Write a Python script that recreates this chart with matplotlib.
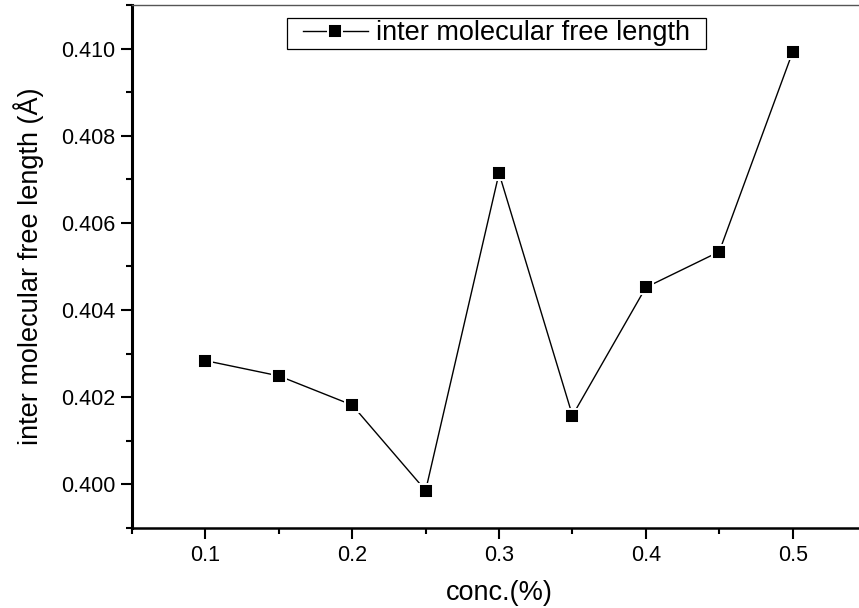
import matplotlib
matplotlib.use('Agg')
import matplotlib.pyplot as plt
from matplotlib.ticker import MultipleLocator
from matplotlib.patches import Rectangle

plt.rcParams['font.family'] = ['Liberation Sans', 'DejaVu Sans']

# concentration vs inter molecular free length
conc = [0.10, 0.15, 0.20, 0.25, 0.30, 0.35, 0.40, 0.45, 0.50]
free_length = [0.40284, 0.40249, 0.40182, 0.39986, 0.40714, 0.40158, 0.40452, 0.40534, 0.40992]

fig = plt.figure(figsize=(8.59, 6.08), dpi=100)
ax = fig.add_axes([0.1537, 0.1316, 0.8545, 0.8602])

# white edge gives the small gap between line and marker
ax.plot(conc, free_length, '-', color='black', linewidth=1.0,
        marker='s', markersize=10, markerfacecolor='black',
        markeredgecolor='white', markeredgewidth=1.4,
        label='inter molecular free length')

ax.set_xlim(0.05, 0.55)
ax.set_ylim(0.399, 0.411)
ax.xaxis.set_minor_locator(MultipleLocator(0.05))
ax.yaxis.set_minor_locator(MultipleLocator(0.001))
ax.set_xticks([0.1, 0.2, 0.3, 0.4, 0.5])
ax.set_xticklabels(['0.1', '0.2', '0.3', '0.4', '0.5'])
ax.set_yticks([0.400, 0.402, 0.404, 0.406, 0.408, 0.410])
ax.set_yticklabels(['0.400', '0.402', '0.404', '0.406', '0.408', '0.410'])

ax.tick_params(which='major', direction='out', length=8, width=1.5, labelsize=15.5, pad=4)
ax.tick_params(which='minor', direction='out', length=4, width=1.5)
ax.tick_params(top=False, right=False)

ax.spines['left'].set_linewidth(2.2)
ax.spines['bottom'].set_linewidth(1.8)
ax.spines['top'].set_linewidth(1.0)
ax.spines['top'].set_color('#555555')

ax.set_xlabel('conc.(%)', fontsize=19.5, labelpad=10)
ax.set_ylabel('inter molecular free length (Å)', fontsize=19.5, labelpad=12)

leg = ax.legend(loc='upper center', bbox_to_anchor=(0.496, 0.971), fontsize=19.5,
                frameon=False, handlelength=2.4, handletextpad=0.3,
                borderpad=0.0, borderaxespad=0)

# frame drawn by hand: wider padding at the sides than top/bottom
fig.canvas.draw()
bb = leg.get_window_extent().transformed(fig.transFigure.inverted())
padx = 16 / 859
pady = 2.5 / 608
frame = Rectangle((bb.x0 - padx, bb.y0 - pady), bb.width + 2 * padx, bb.height + 2 * pady,
                  transform=fig.transFigure, fill=False, edgecolor='black', linewidth=0.9)
fig.patches.append(frame)

fig.savefig('out.png', dpi=100)
